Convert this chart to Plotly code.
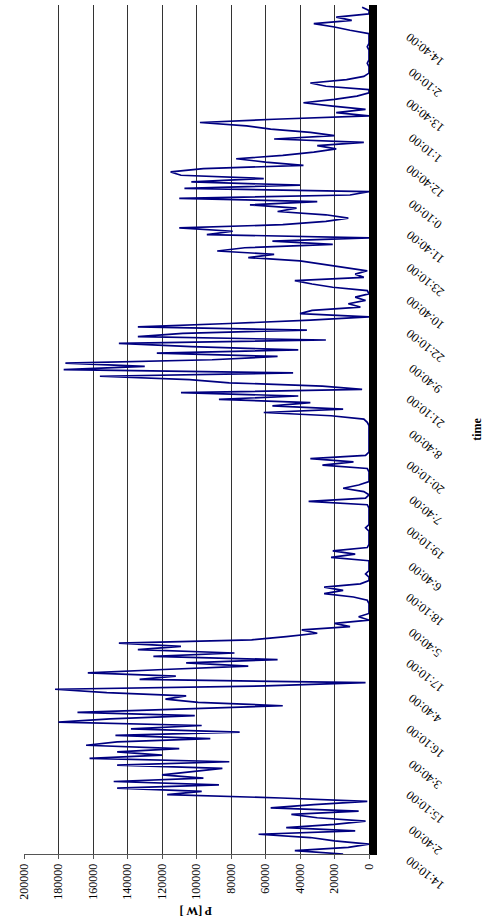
import plotly.graph_objects as go

# Time axis labels (every 30 min starting 14:10, as printed in the source)
time_labels = ["14:10:00", "2:40:00", "15:10:00", "3:40:00", "16:10:00", "4:40:00",
               "17:10:00", "5:40:00", "18:10:00", "6:40:00", "19:10:00", "7:40:00",
               "20:10:00", "8:40:00", "21:10:00", "9:40:00", "22:10:00", "10:40:00",
               "23:10:00", "11:40:00", "0:10:00", "12:40:00", "1:10:00", "13:40:00",
               "2:10:00", "14:40:00"]
label_step_min = 30
sample_step_min = 3

# Power readings in kW, one every 3 minutes starting 14:10
power_kw = [
    15, 43, 12, 0, 20, 34, 64, 8, 48, 20,
    2, 30, 45, 6, 57, 32, 1, 51, 117, 97,
    146, 87, 148, 96, 120, 102, 85, 146, 81, 162,
    120, 146, 110, 164, 146, 92, 147, 75, 138, 97,
    180, 150, 101, 169, 102, 50, 99, 118, 106, 152,
    182, 60, 2, 133, 112, 163, 119, 70, 106, 53,
    125, 78, 134, 109, 145, 68, 48, 30, 39, 11,
    20, 0, 6, 0, 0, 0, 0, 1, 9, 26,
    15, 26, 5, 0, 0, 2, 0, 0, 0, 0,
    22, 8, 21, 1, 0, 0, 0, 0, 0, 2,
    0, 0, 0, 0, 0, 0, 1, 35, 2, 0,
    3, 15, 6, 0, 0, 0, 0, 1, 27, 9,
    34, 2, 0, 0, 0, 0, 0, 0, 0, 0,
    0, 1, 3, 22, 61, 15, 56, 34, 87, 41,
    109, 4, 27, 81, 104, 156, 44, 177, 130, 176,
    91, 53, 123, 41, 103, 145, 25, 134, 108, 36,
    134, 81, 34, 0, 40, 33, 5, 12, 2, 8,
    0, 1, 21, 33, 43, 3, 8, 1, 15, 28,
    40, 70, 55, 88, 72, 21, 56, 0, 94, 79,
    110, 50, 25, 12, 25, 53, 42, 69, 30, 110,
    11, 0, 107, 40, 103, 61, 109, 115, 96, 38,
    60, 77, 50, 32, 19, 30, 3, 55, 20, 34,
    57, 71, 98, 55, 0, 19, 2, 21, 38, 20,
    7, 0, 0, 25, 34, 13, 3, 0, 0, 0,
    1, 0, 0, 0, 0, 1, 0, 0, 0, 0,
    11, 20, 32, 10, 19, 0, 0, 4,
]

p_ticks = [0, 20000, 40000, 60000, 80000, 100000, 120000, 140000, 160000, 180000, 200000]

minutes = [i * sample_step_min for i in range(len(power_kw))]
power_w = [v * 1000 for v in power_kw]
tick_minutes = [i * label_step_min for i in range(len(time_labels))]

serif = "Liberation Serif"

fig = go.Figure()
fig.add_trace(go.Scatter(
    x=power_w, y=minutes, mode="lines",
    line=dict(color="#000080", width=1.7),
    showlegend=False, hoverinfo="skip",
))

# time-axis labels, rotated upside-down like the reference (placed on the y scale)
time_annots = [
    dict(text=lab, xref="paper", yref="y", x=1.163, y=tm, yshift=-19,
         showarrow=False, textangle=-141, font=dict(family=serif, size=12.5),
         xanchor="center", yanchor="middle")
    for lab, tm in zip(time_labels, tick_minutes)
]

fig.update_layout(
    width=490, height=922,
    margin=dict(l=23.5, r=121.3, t=5, b=68, autoexpand=False),
    paper_bgcolor="white", plot_bgcolor="white",
    font=dict(family=serif, color="black", size=12),
    xaxis=dict(
        range=[200000, 0],
        tickvals=p_ticks, ticktext=[str(v) for v in p_ticks],
        tickangle=-90,
        showgrid=True, gridcolor="#333333", gridwidth=1,
        zeroline=False,
        showline=True, linecolor="#555555", linewidth=1,
        ticks="outside", ticklen=4, tickcolor="#555555",
        tickfont=dict(family=serif, size=12),
    ),
    yaxis=dict(
        range=[0, 773],
        side="right",
        tickvals=tick_minutes, showticklabels=False,
        showgrid=False, zeroline=False,
        showline=True, linecolor="black", linewidth=1,
        ticks="outside", ticklen=7, tickwidth=2, tickcolor="black",
        minor=dict(ticks="outside", ticklen=7, tickwidth=2, dtick=1.5,
                   tick0=0, tickcolor="black", showgrid=False),
    ),
    annotations=time_annots + [
        dict(text="<b>P [W ]</b>", xref="paper", yref="paper", x=0.5, y=-0.067,
             showarrow=False, textangle=180, font=dict(family=serif, size=12),
             xanchor="center", yanchor="middle"),
        dict(text="<b>time</b>", xref="paper", yref="paper", x=1.311, y=0.5,
             showarrow=False, textangle=-90, font=dict(family=serif, size=12),
             xanchor="center", yanchor="middle"),
    ],
)

fig.write_html(
    "out.html",
    config={"displayModeBar": False},
    post_script="document.body.style.margin='0';document.body.style.overflow='hidden';"
                "document.documentElement.style.overflow='hidden';",
)
